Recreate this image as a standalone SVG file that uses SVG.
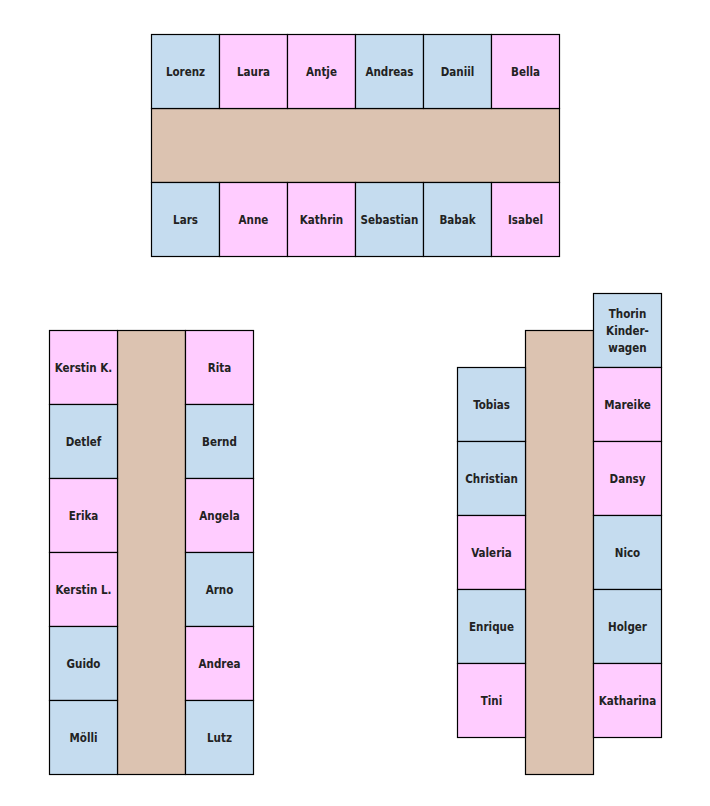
<svg xmlns="http://www.w3.org/2000/svg" width="710" height="806" viewBox="0 0 710 806">
<style>
.b{fill:#c5dcef;stroke:#000;stroke-width:1.2}
.p{fill:#ffccff;stroke:#000;stroke-width:1.2}
.t{fill:#dcc3b1;stroke:#000;stroke-width:1.2}
text{font-family:"DejaVu Sans Condensed","DejaVu Sans",sans-serif;font-weight:bold;font-size:11.5px;fill:#222;text-anchor:middle;dominant-baseline:central}
</style>
<rect width="710" height="806" fill="#fff"/>
<g id="table-top">
<rect class="t" x="151.5" y="108.5" width="408" height="74"/>
<g id="lorenz"><rect class="b" x="151.5" y="34.5" width="68" height="74"/><text x="185.5" y="71.5">Lorenz</text></g>
<g id="laura"><rect class="p" x="219.5" y="34.5" width="68" height="74"/><text x="253.5" y="71.5">Laura</text></g>
<g id="antje"><rect class="p" x="287.5" y="34.5" width="68" height="74"/><text x="321.5" y="71.5">Antje</text></g>
<g id="andreas"><rect class="b" x="355.5" y="34.5" width="68" height="74"/><text x="389.5" y="71.5">Andreas</text></g>
<g id="daniil"><rect class="b" x="423.5" y="34.5" width="68" height="74"/><text x="457.5" y="71.5">Daniil</text></g>
<g id="bella"><rect class="p" x="491.5" y="34.5" width="68" height="74"/><text x="525.5" y="71.5">Bella</text></g>
<g id="lars"><rect class="b" x="151.5" y="182.5" width="68" height="74"/><text x="185.5" y="219.5">Lars</text></g>
<g id="anne"><rect class="p" x="219.5" y="182.5" width="68" height="74"/><text x="253.5" y="219.5">Anne</text></g>
<g id="kathrin"><rect class="p" x="287.5" y="182.5" width="68" height="74"/><text x="321.5" y="219.5">Kathrin</text></g>
<g id="sebastian"><rect class="b" x="355.5" y="182.5" width="68" height="74"/><text x="389.5" y="219.5">Sebastian</text></g>
<g id="babak"><rect class="b" x="423.5" y="182.5" width="68" height="74"/><text x="457.5" y="219.5">Babak</text></g>
<g id="isabel"><rect class="p" x="491.5" y="182.5" width="68" height="74"/><text x="525.5" y="219.5">Isabel</text></g>
</g>
<g id="table-left">
<rect class="t" x="117.5" y="330.5" width="68" height="444"/>
<g id="kerstin-k"><rect class="p" x="49.5" y="330.5" width="68" height="74"/><text x="83.5" y="367.5">Kerstin K.</text></g>
<g id="detlef"><rect class="b" x="49.5" y="404.5" width="68" height="74"/><text x="83.5" y="441.5">Detlef</text></g>
<g id="erika"><rect class="p" x="49.5" y="478.5" width="68" height="74"/><text x="83.5" y="515.5">Erika</text></g>
<g id="kerstin-l"><rect class="p" x="49.5" y="552.5" width="68" height="74"/><text x="83.5" y="589.5">Kerstin L.</text></g>
<g id="guido"><rect class="b" x="49.5" y="626.5" width="68" height="74"/><text x="83.5" y="663.5">Guido</text></g>
<g id="moelli"><rect class="b" x="49.5" y="700.5" width="68" height="74"/><text x="83.5" y="737.5">Mölli</text></g>
<g id="rita"><rect class="p" x="185.5" y="330.5" width="68" height="74"/><text x="219.5" y="367.5">Rita</text></g>
<g id="bernd"><rect class="b" x="185.5" y="404.5" width="68" height="74"/><text x="219.5" y="441.5">Bernd</text></g>
<g id="angela"><rect class="p" x="185.5" y="478.5" width="68" height="74"/><text x="219.5" y="515.5">Angela</text></g>
<g id="arno"><rect class="b" x="185.5" y="552.5" width="68" height="74"/><text x="219.5" y="589.5">Arno</text></g>
<g id="andrea"><rect class="p" x="185.5" y="626.5" width="68" height="74"/><text x="219.5" y="663.5">Andrea</text></g>
<g id="lutz"><rect class="b" x="185.5" y="700.5" width="68" height="74"/><text x="219.5" y="737.5">Lutz</text></g>
</g>
<g id="table-right">
<rect class="t" x="525.5" y="330.5" width="68" height="444"/>
<g id="tobias"><rect class="b" x="457.5" y="367.5" width="68" height="74"/><text x="491.5" y="404.5">Tobias</text></g>
<g id="christian"><rect class="b" x="457.5" y="441.5" width="68" height="74"/><text x="491.5" y="478.5">Christian</text></g>
<g id="valeria"><rect class="p" x="457.5" y="515.5" width="68" height="74"/><text x="491.5" y="552.5">Valeria</text></g>
<g id="enrique"><rect class="b" x="457.5" y="589.5" width="68" height="74"/><text x="491.5" y="626.5">Enrique</text></g>
<g id="tini"><rect class="p" x="457.5" y="663.5" width="68" height="74"/><text x="491.5" y="700.5">Tini</text></g>
<g id="thorin"><rect class="b" x="593.5" y="293.5" width="68" height="74"/><text x="627.5" y="313.5">Thorin</text><text x="627.5" y="330.5">Kinder-</text><text x="627.5" y="347.5">wagen</text></g>
<g id="mareike"><rect class="p" x="593.5" y="367.5" width="68" height="74"/><text x="627.5" y="404.5">Mareike</text></g>
<g id="dansy"><rect class="p" x="593.5" y="441.5" width="68" height="74"/><text x="627.5" y="478.5">Dansy</text></g>
<g id="nico"><rect class="b" x="593.5" y="515.5" width="68" height="74"/><text x="627.5" y="552.5">Nico</text></g>
<g id="holger"><rect class="b" x="593.5" y="589.5" width="68" height="74"/><text x="627.5" y="626.5">Holger</text></g>
<g id="katharina"><rect class="p" x="593.5" y="663.5" width="68" height="74"/><text x="627.5" y="700.5">Katharina</text></g>
</g>
<g id="connectors"/>
</svg>
